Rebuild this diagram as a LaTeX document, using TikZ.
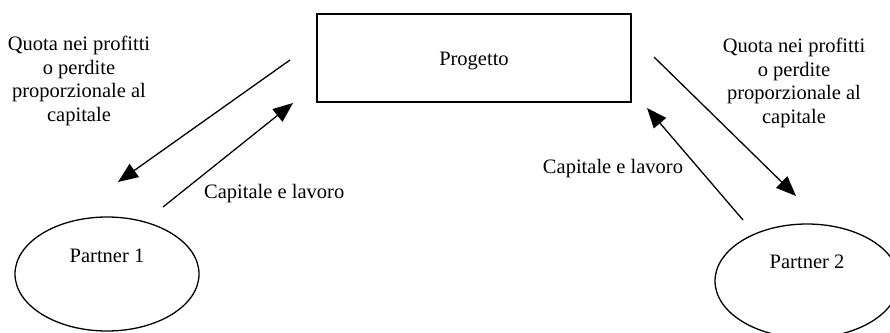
\documentclass[tikz,border=0pt]{standalone}
\usepackage{fontspec}
\setmainfont{Liberation Serif}
\usetikzlibrary{arrows.meta,shapes.geometric}
\tikzset{
  lbl/.style={font=\fontsize{20.5}{23.5}\selectfont, inner sep=0pt, align=center},
  flow/.style={line width=1.3pt, -{Triangle[length=20pt,width=16pt]}},
  boxstyle/.style={draw, line width=1.3pt, minimum width=314pt, minimum height=88pt},
  ellstyle/.style={draw, ellipse, line width=1.3pt, minimum width=184pt, minimum height=114pt, inner sep=0pt}
}
\begin{document}
\begin{tikzpicture}[x=1pt,y=-1pt]
\useasboundingbox (0,0) rectangle (890,332);
\node[boxstyle] (proj) at (474,58) {};
\node[lbl] (projt) at (474,61) {Progetto};
\node[ellstyle] (p1) at (107,274) {};
\node[lbl] (p1t) at (107,256) {Partner 1};
\node[ellstyle] (p2) at (807,281) {};
\node[lbl] (p2t) at (807,262) {Partner 2};
\node[lbl] (q1) at (79,81) {Quota nei profitti\\o perdite\\proporzionale al\\capitale};
\node[lbl] (q2) at (794,83) {Quota nei profitti\\o perdite\\proporzionale al\\capitale};
\node[lbl, anchor=west] (c1) at (204,194) {Capitale e lavoro};
\node[lbl] (c2) at (613,169) {Capitale e lavoro};
\coordinate (a1s) at (290,60);
\coordinate (a1e) at (118,182);
\coordinate (a2s) at (163,207);
\coordinate (a2e) at (293,103);
\coordinate (a3s) at (654,57);
\coordinate (a3e) at (796,196);
\coordinate (a4s) at (743,220);
\coordinate (a4e) at (647,108);
\draw[flow] (a1s) -- (a1e);
\draw[flow] (a2s) -- (a2e);
\draw[flow] (a3s) -- (a3e);
\draw[flow] (a4s) -- (a4e);
\end{tikzpicture}
\end{document}
